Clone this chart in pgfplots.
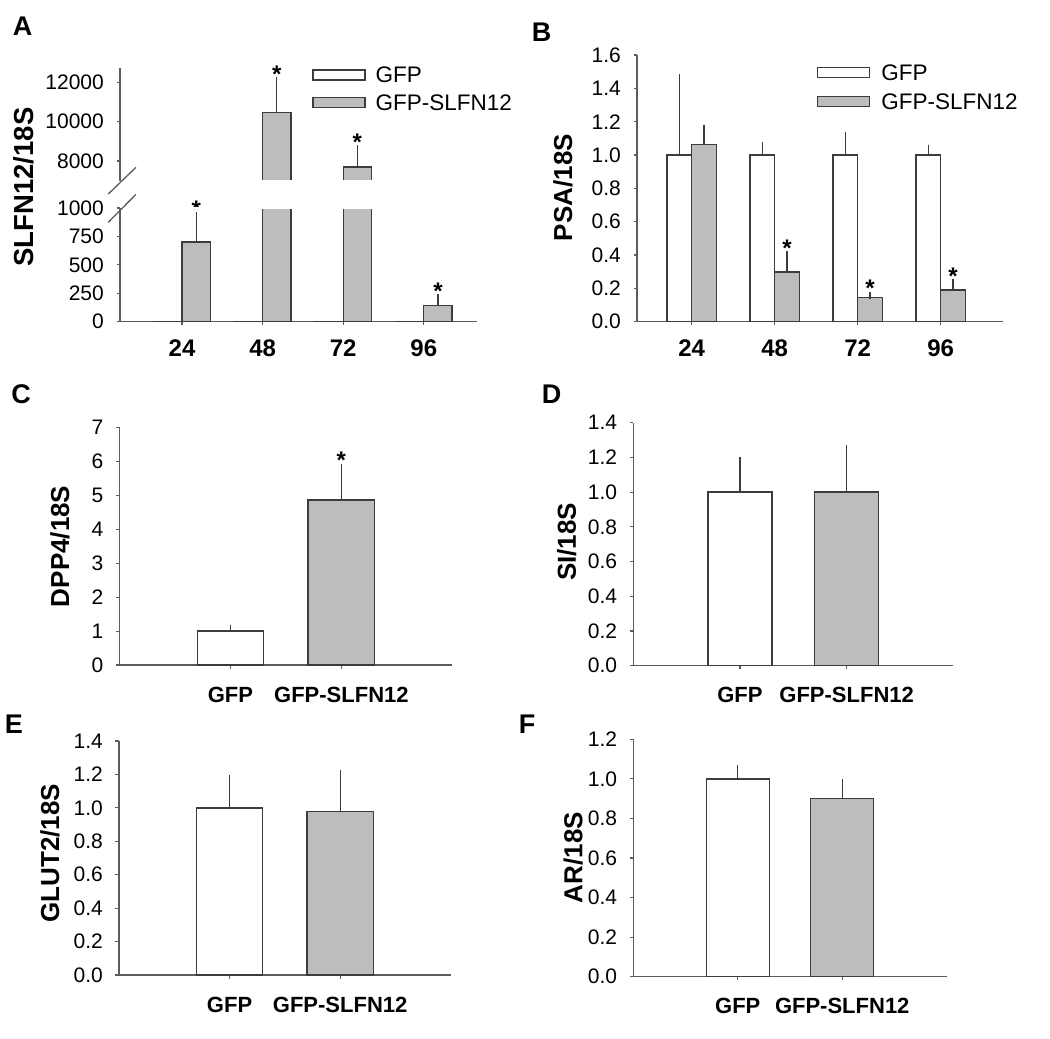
\documentclass[border=0pt]{standalone}
\usepackage{fontspec}
\setmainfont{Liberation Sans}
\usepackage{pgfplots}
\pgfplotsset{compat=1.18}
\definecolor{barg}{HTML}{BDBDBD}
\definecolor{edge}{HTML}{3C3C3C}
\definecolor{axc}{HTML}{5C5C5C}
\newcommand\tickfont{\fontsize{21}{24}\selectfont}
\newcommand\catfont{\fontsize{22}{26}\selectfont\bfseries}
\newcommand\numfont{\fontsize{24}{28}\selectfont\bfseries}
\newcommand\legfont{\fontsize{22.5}{26}\selectfont}
\newcommand\panfont{\fontsize{27}{30}\selectfont\bfseries}
\newcommand\starfont{\fontsize{24}{28}\selectfont\bfseries}
\pgfplotsset{
 base/.style={
  scale only axis, anchor=south west,
  axis x line*=bottom, axis y line*=left,
  axis line style={axc, line width=1.4pt},
  every tick/.style={axc, line width=1.2pt},
  tick align=outside, major tick length=3.5pt,
  /pgf/number format/assume math mode=true,
  /pgf/number format/1000 sep={},
  scaled y ticks=false,
  yticklabel style={font=\tickfont, inner sep=0pt, anchor=east, xshift=-12.5pt},
  xticklabel style={font=\catfont, inner sep=0pt, anchor=base, yshift=-33.5pt},
  ybar,
  legend cell align=left,
 },
 dec1/.style={yticklabel style={/pgf/number format/.cd, fixed, fixed zerofill, precision=1}},
 gfp/.style={fill=white, draw=edge, line width=1.3pt},
 slf/.style={fill=barg, draw=edge, line width=1.3pt},
 eb/.style={/pgfplots/error bars/y dir=plus, /pgfplots/error bars/y explicit,
   /pgfplots/error bars/error mark=-,
   /pgfplots/error bars/error bar style={draw=edge, line width=1.2pt},
   /pgfplots/error bars/error mark options={draw=edge, line width=1.2pt, mark size=3.5pt}},
 star/.style={draw=none, fill=none, nodes near coords={*},
   every node near coord/.append style={font=\starfont, anchor=south, inner sep=0pt, yshift=-2pt, text=black}},
 rectleg/.style={legend image code/.code={\draw[##1] (0pt,-5pt) rectangle (52pt,5pt);}},
 legbase/.style={legend style={draw=none, fill=none, inner sep=0pt, outer sep=0pt, anchor=north west,
   font=\legfont, nodes={inner sep=0pt, text height=16pt, text depth=0pt}, cells={anchor=west}}},
}
\begin{document}
\begin{tikzpicture}
\useasboundingbox (0pt,0pt) rectangle (1050pt,-1039pt);
% ---------------- Panel A (broken axis) ----------------
\begin{axis}[base, at={(120pt,-321.7pt)}, width=357pt, height=113.7pt,
  xmin=-0.77, xmax=3.66, ymin=0, ymax=1000, ytick={0,250,500,750,1000},
  xtick={0,1,2,3}, xticklabels={24,48,72,96}, xticklabel style={font=\numfont, yshift=2.5pt},
  bar width=28.3pt, ylabel={SLFN12/18S},
  ylabel style={font=\fontsize{27.5}{30}\selectfont\bfseries, anchor=center, at={(axis description cs:-0.269,1.185)}}]
\addplot[gfp, bar shift=-14.15pt] coordinates {(0,1) (1,1) (2,1) (3,1)};
\addplot[slf, eb, bar shift=14.15pt] coordinates {(0,700) +- (0,232) (1,10450) +- (0,1610) (2,7700) +- (0,920) (3,140) +- (0,70)};
\addplot[star, bar shift=14.15pt] coordinates {(0,932) (3,211)};
\end{axis}
\begin{axis}[base, axis x line=none, at={(120pt,-180.7pt)}, width=357pt, height=112.4pt,
  xmin=-0.77, xmax=3.66, ymin=7000, ymax=12700, ytick={8000,10000,12000},
  bar width=28.3pt, legbase,
  legend style={at={(0.539,1.0116)}, row sep=11.7pt, column sep=10pt}]
\addlegendimage{rectleg, fill=white, draw=edge, line width=1.3pt}
\addlegendentry{GFP}
\addlegendimage{rectleg, fill=barg, draw=edge, line width=1.3pt}
\addlegendentry{GFP-SLFN12}
\addplot[gfp, bar shift=-14.15pt, forget plot] coordinates {(0,1) (1,1) (2,1) (3,1)};
\addplot[slf, eb, bar shift=14.15pt, forget plot] coordinates {(0,700) +- (0,232) (1,10450) +- (0,1610) (2,7700) +- (0,920) (3,140) +- (0,70)};
\addplot[star, bar shift=14.15pt, forget plot] coordinates {(1,12060) (2,8620)};
\end{axis}
% axis break: open the bar ends at the cut and mark the break
\fill[white] (121pt,-179.7pt) rectangle (478pt,-181.8pt);
\fill[white] (121pt,-207.1pt) rectangle (478pt,-209.0pt);
\draw[axc, line width=1.3pt] (108.3pt,-194pt) -- (136pt,-167.3pt);
\draw[axc, line width=1.3pt] (108.3pt,-222.3pt) -- (136pt,-194.3pt);
% ---------------- Panel B ----------------
\begin{axis}[base, dec1, at={(637pt,-321.7pt)}, width=366.3pt, height=266.7pt,
  xmin=-0.659, xmax=3.754, ymin=0, ymax=1.6, ytick={0,0.2,0.4,0.6,0.8,1.0,1.2,1.4,1.6},
  xtick={0,1,2,3}, xticklabels={24,48,72,96}, xticklabel style={font=\numfont, yshift=2.5pt},
  bar width=24.7pt, ylabel={PSA/18S},
  ylabel style={font=\fontsize{26}{30}\selectfont\bfseries, anchor=center, at={(axis description cs:-0.2023,0.503)}},
  legbase, legend style={at={(0.4914,0.9644)}, row sep=12.8pt, column sep=11pt}]
\addlegendimage{rectleg, fill=white, draw=edge, line width=1.3pt}
\addlegendentry{GFP}
\addlegendimage{rectleg, fill=barg, draw=edge, line width=1.3pt}
\addlegendentry{GFP-SLFN12}
\addplot[gfp, eb, bar shift=-12.35pt, forget plot] coordinates {(0,1.0) +- (0,0.464) (1,1.0) +- (0,0.058) (2,1.0) +- (0,0.12) (3,1.0) +- (0,0.042)};
\addplot[slf, eb, bar shift=12.35pt, forget plot] coordinates {(0,1.064) +- (0,0.096) (1,0.298) +- (0,0.106) (2,0.146) +- (0,0.014) (3,0.19) +- (0,0.046)};
\addplot[star, bar shift=12.35pt, forget plot] coordinates {(1,0.404) (2,0.16) (3,0.236)};
\end{axis}
% ---------------- Panel C ----------------
\begin{axis}[base, at={(119.5pt,-665pt)}, width=332.8pt, height=237.3pt,
  xmin=-1, xmax=2, ymin=0, ymax=7, ytick={0,1,2,3,4,5,6,7},
  xtick={0,1}, xticklabels={GFP,GFP-SLFN12}, bar width=66.5pt,
  ylabel={DPP4/18S}, ylabel style={font=\fontsize{26}{30}\selectfont\bfseries, anchor=center, at={(axis description cs:-0.1788,0.5)}}]
\addplot[gfp, eb, bar shift=0pt] coordinates {(0,1.0) +- (0,0.07)};
\addplot[slf, eb, bar shift=0pt] coordinates {(1,4.87) +- (0,0.97)};
\addplot[star, bar shift=0pt] coordinates {(1,5.84)};
\end{axis}
% ---------------- Panel D ----------------
\begin{axis}[base, dec1, at={(633.3pt,-665.7pt)}, width=320pt, height=243pt,
  xmin=-1, xmax=2, ymin=0, ymax=1.4, ytick={0,0.2,0.4,0.6,0.8,1.0,1.2,1.4},
  xtick={0,1}, xticklabels={GFP,GFP-SLFN12}, bar width=64pt,
  ylabel={SI/18S}, ylabel style={font=\fontsize{26}{30}\selectfont\bfseries, anchor=center, at={(axis description cs:-0.208,0.51)}}]
\addplot[gfp, eb, bar shift=0pt] coordinates {(0,1.0) +- (0,0.18)};
\addplot[slf, eb, bar shift=0pt] coordinates {(1,1.0) +- (0,0.25)};
\end{axis}
% ---------------- Panel E ----------------
\begin{axis}[base, dec1, at={(119pt,-975pt)}, width=331.7pt, height=234pt,
  xmin=-1, xmax=2, ymin=0, ymax=1.4, ytick={0,0.2,0.4,0.6,0.8,1.0,1.2,1.4},
  xtick={0,1}, xticklabels={GFP,GFP-SLFN12}, bar width=66.5pt,
  ylabel={GLUT2/18S}, ylabel style={font=\fontsize{26}{30}\selectfont\bfseries, anchor=center, at={(axis description cs:-0.208,0.52)}}]
\addplot[gfp, eb, bar shift=0pt] coordinates {(0,1.0) +- (0,0.175)};
\addplot[slf, eb, bar shift=0pt] coordinates {(1,0.98) +- (0,0.225)};
\end{axis}
% ---------------- Panel F ----------------
\begin{axis}[base, dec1, at={(633.3pt,-976.7pt)}, width=313.4pt, height=237.4pt,
  xmin=-1, xmax=2, ymin=0, ymax=1.2, ytick={0,0.2,0.4,0.6,0.8,1.0,1.2},
  xtick={0,1}, xticklabels={GFP,GFP-SLFN12}, bar width=63pt,
  ylabel={AR/18S}, ylabel style={font=\fontsize{26}{30}\selectfont\bfseries, anchor=center, at={(axis description cs:-0.1914,0.502)}}]
\addplot[gfp, eb, bar shift=0pt] coordinates {(0,1.0) +- (0,0.052)};
\addplot[slf, eb, bar shift=0pt] coordinates {(1,0.90) +- (0,0.08)};
\end{axis}
% panel letters
\node[font=\panfont] at (22.5pt,-26pt) {A};
\node[font=\panfont] at (541.7pt,-32.5pt) {B};
\node[font=\panfont] at (21pt,-394pt) {C};
\node[font=\panfont] at (551.7pt,-394pt) {D};
\node[font=\panfont] at (14pt,-724pt) {E};
\node[font=\panfont] at (527pt,-724pt) {F};
\end{tikzpicture}
\end{document}
